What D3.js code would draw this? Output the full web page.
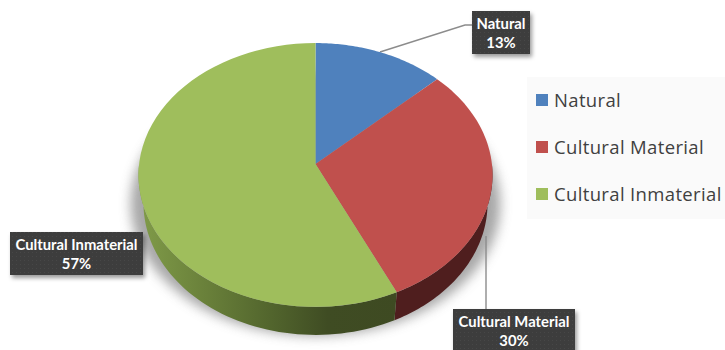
<!DOCTYPE html>
<html><head><meta charset="utf-8">
<script src="https://cdn.jsdelivr.net/npm/d3@7"></script>
<style>html,body{margin:0;padding:0;background:#fff;overflow:hidden}</style>
</head><body><svg id="c" width="725" height="350"></svg>
<script>
const categories = ["Natural", "Cultural Material", "Cultural Inmaterial"];
const values = [13, 30, 57];
const colors = ["#4f81bd", "#c0504d", "#9fbe5c"];

const svg = d3.select("#c");
const defs = svg.append("defs");
const f = defs.append("filter").attr("id","soft").attr("x","-20%").attr("y","-20%").attr("width","140%").attr("height","140%");
f.append("feGaussianBlur").attr("stdDeviation",6);
const b = defs.append("filter").attr("id","boxsh").attr("x","-20%").attr("y","-20%").attr("width","140%").attr("height","150%");
b.append("feDropShadow").attr("dx",2).attr("dy",3).attr("stdDeviation",2).attr("flood-color","#000").attr("flood-opacity",0.4);
const gg = defs.append("linearGradient").attr("id","greenSide").attr("gradientUnits","userSpaceOnUse")
  .attr("x1",142).attr("x2",400).attr("y1",0).attr("y2",0);
[[0,"#7f9a48"],[0.25,"#69803a"],[0.5,"#52652d"],[0.72,"#3f4c23"],[1,"#3e4a22"]].forEach(d=>gg.append("stop").attr("offset",d[0]).attr("stop-color",d[1]));
const pt = defs.append("pattern").attr("id","dots").attr("width",4).attr("height",4).attr("patternUnits","userSpaceOnUse");
pt.append("rect").attr("width",4).attr("height",4).attr("fill","#3d3d3d");
pt.append("rect").attr("width",1).attr("height",1).attr("fill","#474747");

// projected circle: slight perspective, apex sits above the rim's centre
const cx = 315.5, cy = 164, A = 131, B = 176.4, p = -1/12, depth = 28, baseScale = 0.972;
const project = (a) => {
  const u = Math.sin(a), v = -Math.cos(a), w = 1 + p * v;
  return [cx + B * u / w, cy + A * v / w];
};
const projectBase = (a) => {
  const q = project(a);
  return [cx + (q[0] - cx) * baseScale, q[1] + depth];
};
const line = d3.line();
const arcs = d3.pie().sort(null).value(d => d)(values);
const samples = (s, e) => d3.range(0, 61).map(i => s + (e - s) * i / 60);

// shadow under pie
const shadowPts = samples(0, 2 * Math.PI).map(a => { const q = project(a); return [cx + (q[0] - cx) * 1.045, q[1] + depth + 1]; });
svg.append("path").attr("d", line(shadowPts) + "Z").attr("fill", "#8a8a8a").attr("opacity", .75).attr("filter", "url(#soft)");

// leaders behind the pie
const leader = [
  [[380,52],[465,25],[472,25]],
  [[486,236],[486,310]]
];
svg.selectAll("path.lead").data(leader).join("path").attr("class","lead")
  .attr("d", line).attr("fill","none").attr("stroke","#8c8c8c").attr("stroke-width",1.4);

// side walls (front half only)
const sideFill = ["#3f1a1a", "#4f1e1e", "url(#greenSide)"];
arcs.forEach((d, i) => {
  const s = Math.max(d.startAngle, Math.PI / 2), e = Math.min(d.endAngle, 3 * Math.PI / 2);
  if (e <= s) return;
  const top = samples(s, e).map(project);
  const bot = samples(s, e).reverse().map(projectBase);
  svg.append("path").attr("d", line(top.concat(bot)) + "Z").attr("fill", sideFill[i]);
});

// top faces
arcs.forEach((d, i) => {
  const pts = [[cx, cy]].concat(samples(d.startAngle, d.endAngle).map(project));
  svg.append("path").attr("d", line(pts) + "Z").attr("fill", colors[i]);
});

// data labels
const labelBoxes = [
  {x:472,y:11,w:58,h:43},
  {x:453,y:309,w:122,h:46},
  {x:10,y:232,w:133,h:43}
];
labelBoxes.forEach((r, i) => {
  svg.append("rect").attr("x",r.x).attr("y",r.y).attr("width",r.w).attr("height",r.h)
    .attr("fill","url(#dots)").attr("filter","url(#boxsh)");
  const t = svg.append("text").attr("text-anchor","middle").attr("fill","#fff")
    .attr("font-family","Lato").attr("font-weight",700).attr("font-size",14.8);
  const mx = r.x + r.w / 2;
  t.append("tspan").attr("x",mx).attr("y",r.y+17.5).text(categories[i]);
  t.append("tspan").attr("x",mx).attr("y",r.y+36.5).text(values[i] + "%");
});

// legend
const lg = svg.append("g");
lg.append("rect").attr("x",527).attr("y",77).attr("width",198).attr("height",142).attr("fill","#fafafa");
const ly = d3.scalePoint().domain(categories).range([100,194]);
categories.forEach((c, i) => {
  lg.append("rect").attr("x",536).attr("y",ly(c)-6).attr("width",12).attr("height",12).attr("fill",colors[i]);
  lg.append("text").attr("x",554).attr("y",ly(c)+6.5).attr("font-family","Open Sans").attr("font-size",18.5)
    .attr("letter-spacing",0.35).attr("fill","#404040").text(c);
});
</script></body></html>
